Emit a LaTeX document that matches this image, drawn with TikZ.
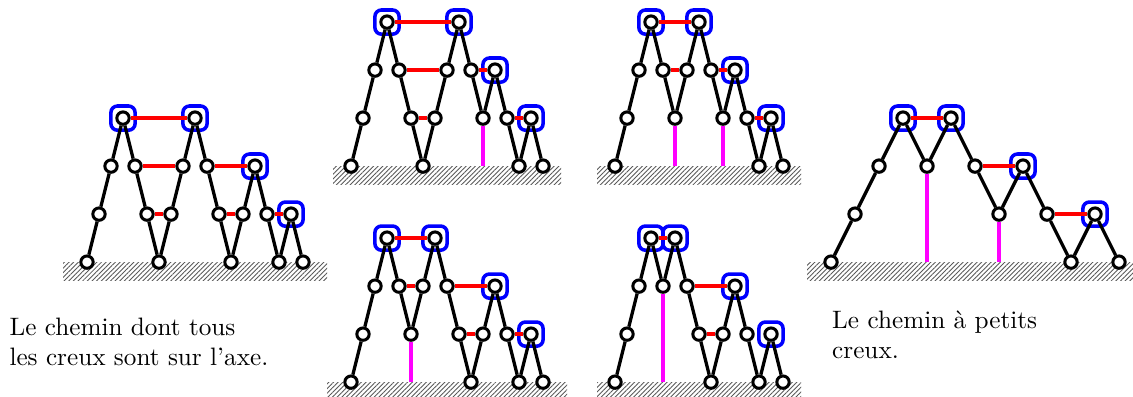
\documentclass[tikz,border=0pt]{standalone}
\usepackage{tikz}
\usepackage{xcolor}
\usetikzlibrary{patterns.meta}

\definecolor{polecolor}{RGB}{255,0,255}

\begin{document}
\begin{tikzpicture}[x=4.762pt, y=19.05pt,
    vertex/.style={circle, draw, line width=1.2pt, fill=white, inner sep=0pt, minimum size=4.9pt},
    peak/.style={draw=blue, line width=1.4pt, rounded corners=2.6pt, inner sep=0pt, minimum size=9.6pt},
    walk/.style={line width=1.3pt},
    tunnel/.style={red, line width=1.3pt},
    pole/.style={polecolor, line width=1.3pt},
    ground/.style={pattern={Lines[angle=45, distance=1.3pt, line width=0.35pt]}, pattern color=black!65}]
    \useasboundingbox (0,0) rectangle (94.417,8.25);

    % all valleys on the axis
    \begin{scope}[shift={(7.25,2.79)}]
        \fill[ground] (-2,0) rectangle (20,-0.375);
        \foreach \h [count=\i from 0] in {0,1,2,3,2,1,0,1,2,3,2,1,0,1,2,1,0,1,0}
            \node[vertex] (a-\i) at (\i,\h) {};
        \foreach \i in {3,9,14,17}
            \node[peak] (a-\i-box) at (a-\i) {};
        \foreach \i [remember=\i as \j (initially 0)] in {1,...,18}
            \draw[walk] (a-\j) -- (a-\i);
        \foreach \s/\t in {3/9,4/8,5/7,10/14,11/13,15/17}
            \draw[tunnel] (a-\s) -- (a-\t);
    \end{scope}

    % top middle
    \begin{scope}[shift={(29.25,4.79)}]
        \fill[ground] (-1.5,0) rectangle (17.5,-0.375);
        \foreach \h [count=\i from 0] in {0,1,2,3,2,1,0,1,2,3,2,1,2,1,0,1,0}
            \node[vertex] (b-\i) at (\i,\h) {};
        \foreach \i in {3,9,12,15}
            \node[peak] (b-\i-box) at (b-\i) {};
        \foreach \i [remember=\i as \j (initially 0)] in {1,...,16}
            \draw[walk] (b-\j) -- (b-\i);
        \foreach \s/\t in {3/9,4/8,5/7,10/12,13/15}
            \draw[tunnel] (b-\s) -- (b-\t);
        \draw[pole] (b-11) -- (b-11 |- b-0);
    \end{scope}

    % top right
    \begin{scope}[shift={(51.25,4.79)}]
        \fill[ground] (-1.5,0) rectangle (15.5,-0.375);
        \foreach \h [count=\i from 0] in {0,1,2,3,2,1,2,3,2,1,2,1,0,1,0}
            \node[vertex] (c-\i) at (\i,\h) {};
        \foreach \i in {3,7,10,13}
            \node[peak] (c-\i-box) at (c-\i) {};
        \foreach \i [remember=\i as \j (initially 0)] in {1,...,14}
            \draw[walk] (c-\j) -- (c-\i);
        \foreach \s/\t in {3/7,4/6,8/10,11/13}
            \draw[tunnel] (c-\s) -- (c-\t);
        \draw[pole] (c-5) -- (c-5 |- c-0);
        \draw[pole] (c-9) -- (c-9 |- c-0);
    \end{scope}

    % bottom middle
    \begin{scope}[shift={(29.25,0.29)}]
        \fill[ground] (-2,0) rectangle (18,-0.29);
        \foreach \h [count=\i from 0] in {0,1,2,3,2,1,2,3,2,1,0,1,2,1,0,1,0}
            \node[vertex] (d-\i) at (\i,\h) {};
        \foreach \i in {3,7,12,15}
            \node[peak] (d-\i-box) at (d-\i) {};
        \foreach \i [remember=\i as \j (initially 0)] in {1,...,16}
            \draw[walk] (d-\j) -- (d-\i);
        \foreach \s/\t in {3/7,4/6,8/12,9/11,13/15}
            \draw[tunnel] (d-\s) -- (d-\t);
        \draw[pole] (d-5) -- (d-5 |- d-0);
    \end{scope}

    % bottom right
    \begin{scope}[shift={(51.25,0.29)}]
        \fill[ground] (-1.5,0) rectangle (15.5,-0.29);
        \foreach \h [count=\i from 0] in {0,1,2,3,2,3,2,1,0,1,2,1,0,1,0}
            \node[vertex] (e-\i) at (\i,\h) {};
        \foreach \i in {3,5,10,13}
            \node[peak] (e-\i-box) at (e-\i) {};
        \foreach \i [remember=\i as \j (initially 0)] in {1,...,14}
            \draw[walk] (e-\j) -- (e-\i);
        \foreach \s/\t in {3/5,6/10,7/9}
            \draw[tunnel] (e-\s) -- (e-\t);
        \draw[pole] (e-4) -- (e-4 |- e-0);
    \end{scope}

    % small valleys
    \begin{scope}[shift={(69.25,2.79)}]
        \fill[ground] (-2,0) rectangle (25.167,-0.375);
        \foreach \h [count=\i from 0] in {0,1,2,3,2,3,2,1,2,1,0,1,0}
            \node[vertex] (f-\i) at (2*\i,\h) {};
        \foreach \i in {3,5,8,11}
            \node[peak] (f-\i-box) at (f-\i) {};
        \foreach \i [remember=\i as \j (initially 0)] in {1,...,12}
            \draw[walk] (f-\j) -- (f-\i);
        \foreach \s/\t in {3/5,6/8,9/11}
            \draw[tunnel] (f-\s) -- (f-\t);
        \draw[pole] (f-4) -- (f-4 |- f-0);
        \draw[pole] (f-7) -- (f-7 |- f-0);
    \end{scope}

    \node[anchor=base west, align=left, inner sep=0pt] (left text) at (0.75,0.631)
        {Le chemin dont tous\\les creux sont sur l'axe.};
    \node[anchor=base west, align=left, inner sep=0pt] (right text) at (69.31,0.785)
        {Le chemin \`a petits\\creux.};
\end{tikzpicture}
\end{document}
